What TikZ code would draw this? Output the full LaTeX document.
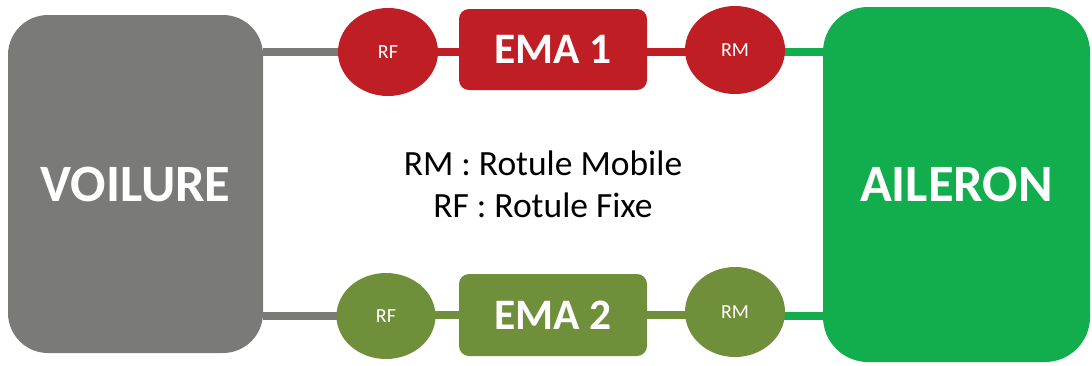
\documentclass[tikz,border=0pt]{standalone}
\usepackage{fontspec}
\setmainfont{Carlito}
\usetikzlibrary{shapes.geometric,backgrounds}
\definecolor{cgray}{RGB}{122,122,121}
\definecolor{cred}{RGB}{190,30,36}
\definecolor{colive}{RGB}{112,143,58}
\definecolor{cgreen}{RGB}{18,173,76}
\tikzset{
  bigbox/.style={rectangle, fill=#1, draw=none, inner sep=0pt, text=white,
    font=\fontsize{52.5}{60}\selectfont\bfseries},
  emabox/.style={rectangle, rounded corners=10pt, fill=#1, draw=none, inner sep=0pt,
    minimum width=188pt, text=white, font=\fontsize{43.5}{50}\selectfont\bfseries},
  joint/.style={ellipse, fill=#1, draw=none, inner sep=0pt, minimum width=100pt,
    minimum height=88pt, text=white, font=\fontsize{20}{22}\selectfont},
  link/.style={line width=8pt, draw=#1},
  legend/.style={font=\fontsize{35.5}{40}\selectfont, text=black, inner sep=0pt}
}
\begin{document}
\begin{tikzpicture}[x=1pt,y=-1pt]
\useasboundingbox (0,0) rectangle (1092,365);
\node[bigbox=cgray, rounded corners=40pt, minimum width=255pt, minimum height=338pt] (V) at (135.5,184) {VOILURE};
\node[bigbox=cgreen, rounded corners=45pt, minimum width=267pt, minimum height=355pt] (A) at (956.5,184.5) {AILERON};
\node[emabox=cred, minimum height=81pt] (E1) at (553,49.5) {EMA 1};
\node[emabox=colive, minimum height=82pt] (E2) at (553,315) {EMA 2};
\node[joint=cred] (RF1) at (388,52) {RF};
\node[joint=cred] (RM1) at (735,50) {RM};
\node[joint=colive, minimum width=99pt, minimum height=86pt] (RF2) at (386,316) {RF};
\node[joint=colive, minimum height=90pt] (RM2) at (735,312) {RM};
\node[legend] (L1) at (543,163) {RM : Rotule Mobile};
\node[legend] (L2) at (543,205) {RF : Rotule Fixe};
\begin{pgfonlayer}{background}
\draw[link=cgray] (RF1.center) -- (RF1.center -| V.east);
\draw[link=cred] (RF1.center) -- (RF1.center -| E1.west);
\draw[link=cred] (RF1.center -| E1.east) -- (RF1.center -| RM1.center);
\draw[link=cgreen] (RF1.center -| RM1.center) -- (RF1.center -| A.west);
\draw[link=cgray] (RF2.center) -- (RF2.center -| V.east);
\draw[link=colive] (E2.center -| RF2.center) -- (E2.center -| E2.west);
\draw[link=colive] (E2.east) -- (E2.center -| RM2.center);
\draw[link=cgreen] (RF2.center -| RM2.center) -- (RF2.center -| A.west);
\end{pgfonlayer}
\end{tikzpicture}
\end{document}
